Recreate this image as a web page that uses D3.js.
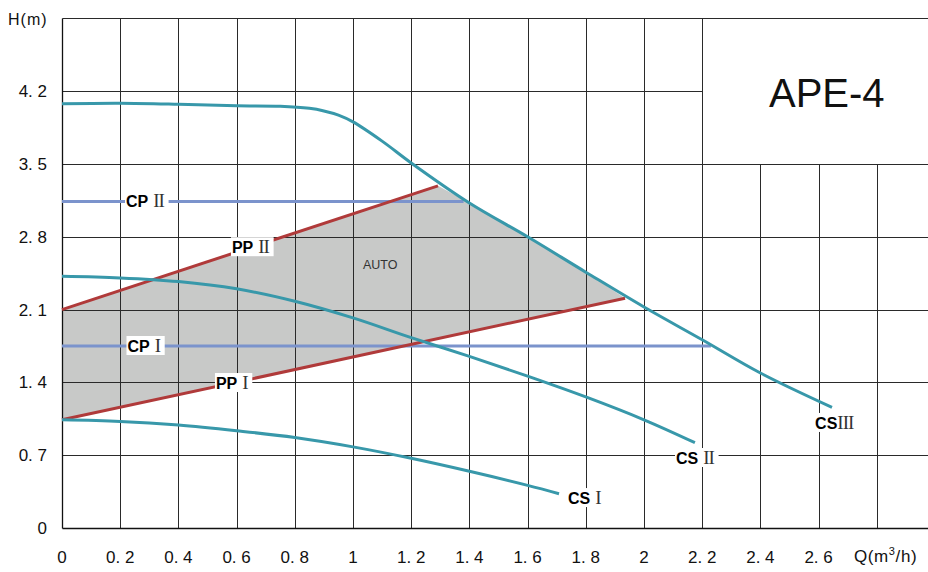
<!DOCTYPE html>
<html>
<head>
<meta charset="utf-8">
<script src="https://cdn.jsdelivr.net/npm/d3@7"></script>
<style>
  html, body { margin: 0; padding: 0; background: #fff; }
  svg { display: block; overflow: hidden; }
  .tick { font-family: "Liberation Sans", Arial, sans-serif; font-size: 17px; fill: #111; }
</style>
</head>
<body>
<div id="chart"></div>
<script>

// axis ticks
var flowTicks = [0, 0.2, 0.4, 0.6, 0.8, 1, 1.2, 1.4, 1.6, 1.8, 2, 2.2, 2.4, 2.6];
var flowLabels = ["0", "0. 2", "0. 4", "0. 6", "0. 8", "1", "1. 2", "1. 4", "1. 6", "1. 8", "2", "2. 2", "2. 4", "2. 6"];
var headTicks = [0, 0.7, 1.4, 2.1, 2.8, 3.5, 4.2];
var headLabels = ["0", "0. 7", "1. 4", "2. 1", "2. 8", "3. 5", "4. 2"];

// pump curves [Q, H]
var csI = [[0, 1.04], [0.2, 1.025], [0.4, 0.99], [0.6, 0.935], [0.8, 0.87], [1.0, 0.78], [1.2, 0.67], [1.4, 0.545], [1.6, 0.41], [1.708, 0.33]];
var csII = [[0, 2.42], [0.2, 2.405], [0.4, 2.37], [0.6, 2.30], [0.8, 2.18], [1.0, 2.02], [1.2, 1.83], [1.4, 1.65], [1.6, 1.46], [1.8, 1.26], [2.0, 1.04], [2.175, 0.82]];
var csIII = [[0, 4.08], [0.2, 4.085], [0.4, 4.075], [0.6, 4.06], [0.75, 4.055], [0.85, 4.035], [0.9, 4.01], [0.95, 3.97], [1.0, 3.905], [1.1, 3.72], [1.2, 3.51], [1.4, 3.125], [1.6, 2.80], [1.8, 2.46], [2.0, 2.125], [2.2, 1.81], [2.4, 1.49], [2.646, 1.16]];

// proportional pressure lines
var ppI = [[0, 1.04], [1.935, 2.21]];
var ppII = [[0, 2.1], [1.292, 3.29]];

// constant pressure lines
var cpI = [[0, 1.75], [2.23, 1.75]];
var cpII = [[0, 3.14], [1.38, 3.14]];

// labels: name, numeral, anchor [Q, H]
var labels = [
  {name: "CP", num: "II", gap: true, at: [0.22, 3.14]},
  {name: "PP", num: "II", gap: true, at: [0.584, 2.70]},
  {name: "CP", num: "I", gap: true, at: [0.225, 1.75]},
  {name: "PP", num: "I", gap: true, at: [0.529, 1.394]},
  {name: "CS", num: "III", gap: false, at: [2.588, 1.01]},
  {name: "CS", num: "II", gap: true, at: [2.110, 0.673]},
  {name: "CS", num: "I", gap: true, at: [1.739, 0.288]}
];

var width = 928, height = 572;

var x = d3.scaleLinear().domain([0, 3]).range([62, 935]);
var y = d3.scaleLinear().domain([0, 4.9]).range([528, 18.4]);

var svg = d3.select("#chart").append("svg")
    .attr("width", width)
    .attr("height", height);

var px = function(v) { return Math.round(v) + 0.5; };

// gray AUTO region: under PP II, above PP I, left of CS III
var upper = csIII.filter(function(d) { return d[0] > ppII[1][0] && d[0] < ppI[1][0]; });
var region = [ppI[0], ppI[1]].concat(upper.slice().reverse()).concat([ppII[1], ppII[0]]);
svg.append("path")
    .attr("d", d3.line().x(function(d) { return x(d[0]); }).y(function(d) { return y(d[1]); })(region) + "Z")
    .attr("fill", "#c8c9c8");

// grid, leaving the title box (Q > 2.2, H > 3.5) empty
var boxQ = 2.2, boxH = 3.5;
var grid = svg.append("g").attr("stroke", "#2a2a2a").attr("stroke-width", 1);
var vlines = flowTicks.slice(1).concat([2.8, 3.0]);
grid.selectAll("line.v").data(vlines).enter().append("line")
    .attr("class", "v")
    .attr("x1", function(d) { return px(x(d)); })
    .attr("x2", function(d) { return px(x(d)); })
    .attr("y1", px(y(0)))
    .attr("y2", function(d) { return d > boxQ ? px(y(boxH)) : px(y(4.9)); });
grid.selectAll("line.h").data(headTicks.slice(1).concat([4.9])).enter().append("line")
    .attr("class", "h")
    .attr("x1", px(x(0)))
    .attr("x2", function(d) { return d > boxH && d < 4.9 ? px(x(boxQ)) : px(x(3)); })
    .attr("y1", function(d) { return px(y(d)); })
    .attr("y2", function(d) { return px(y(d)); });

// axes
svg.append("line").attr("x1", px(x(0))).attr("x2", px(x(0))).attr("y1", px(y(0))).attr("y2", px(y(4.9)))
    .attr("stroke", "#111").attr("stroke-width", 1.3);
svg.append("line").attr("x1", px(x(0))).attr("x2", px(x(3))).attr("y1", px(y(0))).attr("y2", px(y(0)))
    .attr("stroke", "#111").attr("stroke-width", 1.3);

svg.selectAll("text.xl").data(flowTicks).enter().append("text")
    .attr("class", "tick xl")
    .attr("x", function(d) { return x(d); })
    .attr("y", 563)
    .attr("text-anchor", "middle")
    .text(function(d, i) { return flowLabels[i]; });

svg.selectAll("text.yl").data(headTicks).enter().append("text")
    .attr("class", "tick yl")
    .attr("x", 47)
    .attr("y", function(d) { return y(d) + 6; })
    .attr("text-anchor", "end")
    .text(function(d, i) { return headLabels[i]; });

svg.append("text").attr("class", "tick")
    .attr("x", 8).attr("y", 25)
    .style("font-size", "16px")
    .style("letter-spacing", "1px")
    .text("H(m)");

var qt = svg.append("text").attr("class", "tick")
    .attr("x", 854).attr("y", 562)
    .style("letter-spacing", "0.6px");
qt.append("tspan").text("Q(m");
qt.append("tspan").attr("dy", -7).style("font-size", "11px").text("3");
qt.append("tspan").attr("dy", 7).text("/h)");

svg.append("text")
    .attr("x", 769).attr("y", 107)
    .style("font-family", "'Liberation Sans', Arial, sans-serif")
    .style("font-size", "40px")
    .attr("fill", "#111")
    .text("APE-4");

svg.append("text")
    .attr("x", x(1.034)).attr("y", y(2.49))
    .style("font-family", "'Liberation Sans', Arial, sans-serif")
    .style("font-size", "12.5px")
    .attr("fill", "#333")
    .text("AUTO");

// lines
var line = d3.line().x(function(d) { return x(d[0]); }).y(function(d) { return y(d[1]); });
var curve = d3.line().curve(d3.curveCatmullRom.alpha(0.5)).x(function(d) { return x(d[0]); }).y(function(d) { return y(d[1]); });

[cpI, cpII].forEach(function(d) {
  svg.append("path").attr("d", line(d)).attr("fill", "none")
      .attr("stroke", "#7b93cc").attr("stroke-width", 3);
});
[ppI, ppII].forEach(function(d) {
  svg.append("path").attr("d", line(d)).attr("fill", "none")
      .attr("stroke", "#b03a3a").attr("stroke-width", 3);
});
[csI, csII, csIII].forEach(function(d) {
  svg.append("path").attr("d", curve(d)).attr("fill", "none")
      .attr("stroke", "#3898aa").attr("stroke-width", 3);
});

// labels with white backing
labels.forEach(function(l) {
  var g = svg.append("g");
  var t = g.append("text")
      .attr("x", x(l.at[0]))
      .attr("y", y(l.at[1]) + 6)
      .attr("fill", "#000");
  t.append("tspan")
      .style("font-family", "'Liberation Sans', Arial, sans-serif")
      .style("font-weight", "bold")
      .style("font-size", "16px")
      .text(l.name);
  t.append("tspan")
      .attr("dx", l.gap ? 5 : 0)
      .style("font-family", "'Liberation Serif', 'Times New Roman', serif")
      .style("font-size", "19px")
      .style("letter-spacing", "-1px")
      .attr("fill", "#333")
      .text(l.num);
  var b = t.node().getBBox();
  g.insert("rect", "text")
      .attr("x", b.x - 1).attr("y", b.y + 1)
      .attr("width", b.width + 5).attr("height", b.height - 2)
      .attr("fill", "#fff");
});

</script>
</body>
</html>
